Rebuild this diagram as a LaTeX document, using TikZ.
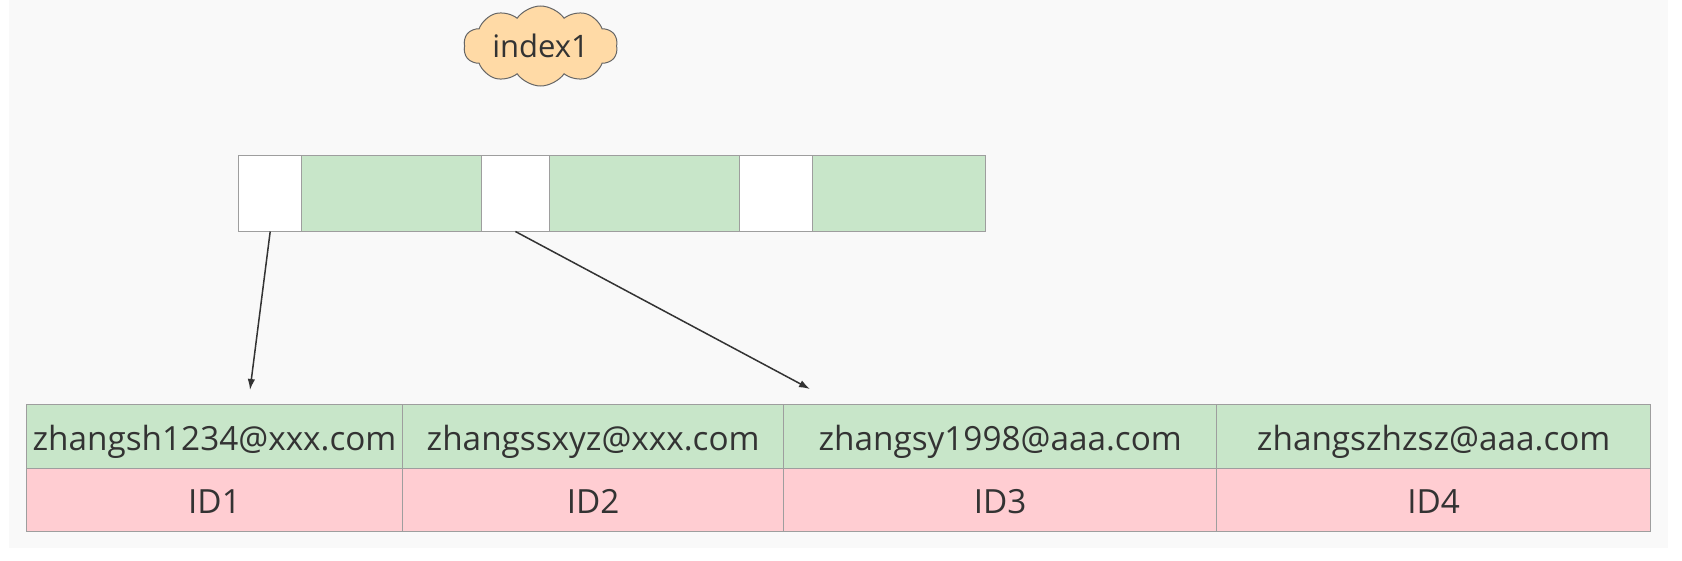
\documentclass[tikz,border=0pt]{standalone}
\usepackage{fontspec}
\setmainfont{Open Sans}
\usetikzlibrary{shapes.symbols,arrows.meta,positioning}
\definecolor{bggray}{HTML}{F9F9F9}
\definecolor{cellline}{HTML}{9E9E9E}
\definecolor{keygreen}{HTML}{C8E6C9}
\definecolor{idpink}{HTML}{FFCDD2}
\definecolor{cloudfill}{HTML}{FFDAA6}
\definecolor{textgray}{HTML}{333333}
\tikzset{
  cell/.style={draw=cellline, line width=1pt, inner sep=0, anchor=north west,
    text=textgray, font=\fontsize{33.3}{40}\selectfont},
  ptr/.style={cell, fill=white, minimum height=76pt},
  key/.style={cell, fill=keygreen, minimum height=76pt},
  email/.style={cell, fill=keygreen, minimum height=63.3pt,
    text height=33pt, text depth=5pt},
  rowid/.style={email, fill=idpink},
  arrowline/.style={draw=textgray, line width=1.5pt, -{Latex[length=11pt,width=7.5pt]}}
}
\begin{document}
\begin{tikzpicture}[x=1pt,y=-1pt]
  \useasboundingbox (0,0) rectangle (1682,560);
  \fill [white] (0,0) rectangle (1682,560);
  \fill [bggray] (8.6,0) rectangle (1668,548);
  % index name
  \node [cloud, cloud puffs=10, cloud puff arc=110, cloud ignores aspect,
    draw=gray!80!black, line width=1pt,
    fill=cloudfill, text=textgray, font=\fontsize{31}{37}\selectfont,
    minimum width=154pt, minimum height=80pt, inner sep=0] (idx) at (540.6, 46) {index1};
  % index page
  \node [ptr, minimum width=63.4pt] (w1) at (238, 154.5) {};
  \node [key, minimum width=179.2pt] (k1) at (301.4, 154.5) {};
  \node [ptr, minimum width=68.6pt] (w2) at (480.6, 154.5) {};
  \node [key, minimum width=189.8pt] (k2) at (549.2, 154.5) {};
  \node [ptr, minimum width=73pt] (w3) at (739, 154.5) {};
  \node [key, minimum width=172.7pt] (k3) at (812, 154.5) {};
  % table rows
  \node [email, minimum width=376.6pt] (e1) at (25.7, 404.4) {zhangsh1234@xxx.com};
  \node [email, minimum width=380.7pt] (e2) at (402.3, 404.4) {zhangssxyz@xxx.com};
  \node [email, minimum width=433.4pt] (e3) at (783, 404.4) {zhangsy1998@aaa.com};
  \node [email, minimum width=433.6pt] (e4) at (1216.4, 404.4) {zhangszhzsz@aaa.com};
  \node [rowid, minimum width=376.6pt] (i1) at (25.7, 467.7) {ID1};
  \node [rowid, minimum width=380.7pt] (i2) at (402.3, 467.7) {ID2};
  \node [rowid, minimum width=433.4pt] (i3) at (783, 467.7) {ID3};
  \node [rowid, minimum width=433.6pt] (i4) at (1216.4, 467.7) {ID4};
  % pointers
  \coordinate (p1) at (250, 390);
  \coordinate (p2) at (810, 389);
  \draw [arrowline] (w1.south) -- (p1);
  \draw [arrowline] (w2.south) -- (p2);
\end{tikzpicture}
\end{document}
